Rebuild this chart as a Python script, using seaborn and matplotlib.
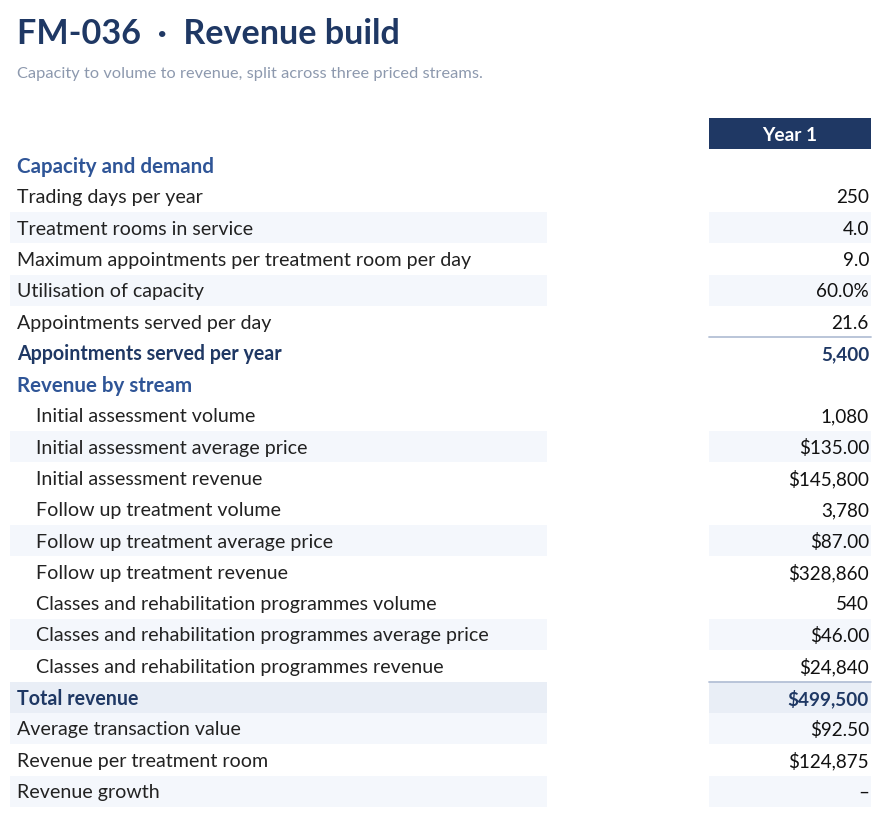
import matplotlib
matplotlib.use("Agg")
import matplotlib.pyplot as plt
import seaborn as sns

# Table content
labels = [
    "Capacity and demand",
    "Trading days per year",
    "Treatment rooms in service",
    "Maximum appointments per treatment room per day",
    "Utilisation of capacity",
    "Appointments served per day",
    "Appointments served per year",
    "Revenue by stream",
    "Initial assessment volume",
    "Initial assessment average price",
    "Initial assessment revenue",
    "Follow up treatment volume",
    "Follow up treatment average price",
    "Follow up treatment revenue",
    "Classes and rehabilitation programmes volume",
    "Classes and rehabilitation programmes average price",
    "Classes and rehabilitation programmes revenue",
    "Total revenue",
    "Average transaction value",
    "Revenue per treatment room",
    "Revenue growth",
]
year1 = [
    "", "250", "4.0", "9.0", "60.0%", "21.6", "5,400",
    "", "1,080", "$135.00", "$145,800", "3,780", "$87.00", "$328,860",
    "540", "$46.00", "$24,840", "$499,500", "$92.50", "$124,875", "\u2013",
]
# row kinds: s = section, n = normal, i = indented, t = subtotal, T = total
kinds = ["s", "n", "n", "n", "n", "n", "t",
         "s", "i", "i", "i", "i", "i", "i", "i", "i", "i",
         "T", "n", "n", "n"]
banded = [0, 0, 1, 0, 1, 0, 0,
          0, 0, 1, 0, 0, 1, 0, 0, 1, 0,
          0, 1, 0, 1]

sns.set_theme(style="white")
plt.rcParams["font.family"] = ["Lato", "DejaVu Sans"]

NAVY = "#1f3864"
BLUE = "#2f5597"
BAND = "#f4f7fc"
TOTAL_BAND = "#e9eef6"
RULE = "#b4c0d6"

fig = plt.figure(figsize=(8.87, 8.17), dpi=100)
ax = fig.add_axes([0, 0, 1, 1])
ax.set_xlim(0, 887)
ax.set_ylim(817, 0)
ax.axis("off")

fig.text(17 / 887, 1 - 33.5 / 817, "FM-036  \u00b7  Revenue build", fontsize=24.6,
         fontweight="bold", color=NAVY, va="center", ha="left")
fig.text(17 / 887, 1 - 74 / 817, "Capacity to volume to revenue, split across three priced streams.",
         fontsize=11.8, color="#8d99ae", va="center", ha="left")

# header
ax.barh(133.5, 162, left=709, height=31, color=NAVY, linewidth=0)
ax.text(790, 135, "Year 1", color="white", fontsize=13.8, fontweight="bold",
        ha="center", va="center")

y0, step = 165, 31.3
rows = [y0 + i * step for i in range(len(labels))]

for y, lab, val, kind, band in zip(rows, labels, year1, kinds, banded):
    if kind == "T":
        ax.barh(y, 537, left=10, height=31, color=TOTAL_BAND, linewidth=0)
        ax.barh(y, 162, left=709, height=31, color=TOTAL_BAND, linewidth=0)
    elif band:
        ax.barh(y, 537, left=10, height=31, color=BAND, linewidth=0)
        ax.barh(y, 162, left=709, height=31, color=BAND, linewidth=0)
    if kind in ("t", "T"):
        ax.plot([709, 871], [y - 15.5, y - 15.5], color=RULE, lw=1.3)

    x = 36 if kind == "i" else 17
    if kind == "s":
        style = dict(color=BLUE, fontweight="bold", fontsize=14.8)
    elif kind in ("t", "T"):
        style = dict(color=NAVY, fontweight="bold", fontsize=14.1)
    else:
        style = dict(color="#222222", fontsize=14.1)
    ax.text(x, y + 1.5, lab, ha="left", va="center", **style)
    if val:
        vstyle = dict(style)
        vstyle["fontsize"] = 13.6
        if kind not in ("t", "T"):
            vstyle["color"] = "#111111"
        ax.text(869, y + 1.5, val, ha="right", va="center", **vstyle)

fig.savefig("out.png", dpi=100, facecolor="white")
